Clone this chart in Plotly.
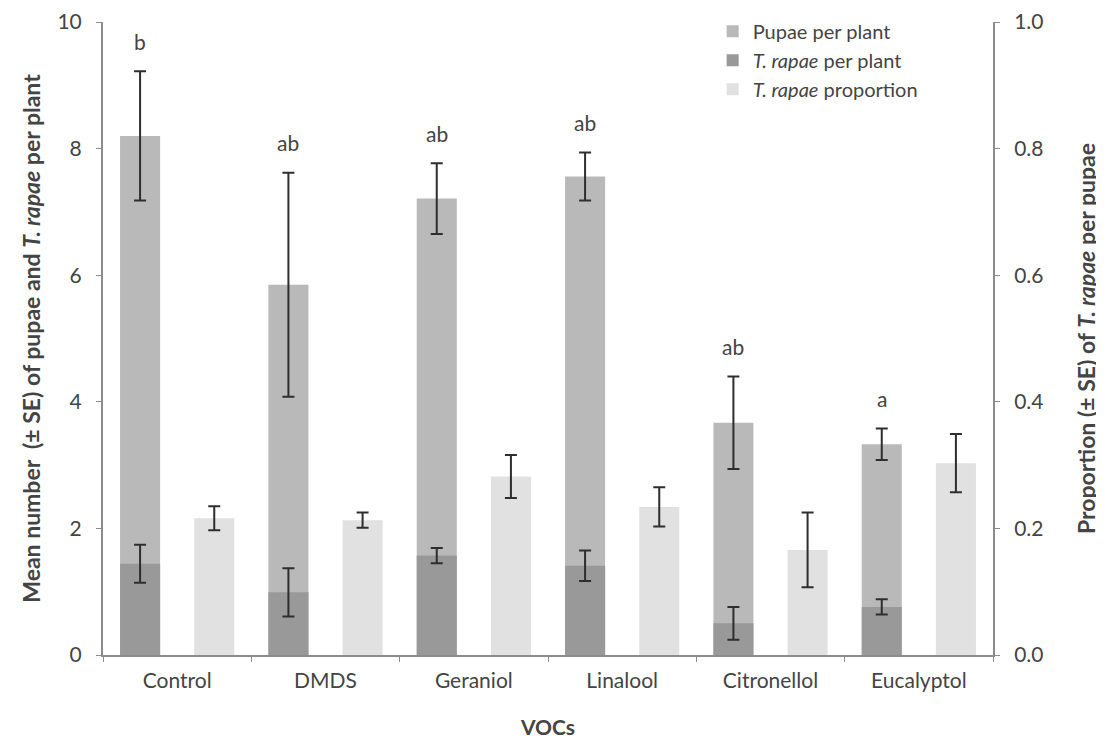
import plotly.graph_objects as go

categories = ["Control", "DMDS", "Geraniol", "Linalool", "Citronellol", "Eucalyptol"]
pupae_mean = [8.20, 5.85, 7.21, 7.56, 3.67, 3.33]
pupae_se = [1.02, 1.77, 0.56, 0.38, 0.73, 0.25]
rapae_mean = [1.44, 0.99, 1.57, 1.41, 0.50, 0.76]
rapae_se = [0.30, 0.38, 0.12, 0.24, 0.26, 0.12]
prop_mean = [0.216, 0.213, 0.282, 0.234, 0.166, 0.303]
prop_se = [0.019, 0.012, 0.034, 0.031, 0.059, 0.046]
letters = ["b", "ab", "ab", "ab", "ab", "a"]

FONT = "Lato, 'Open Sans', sans-serif"
TXT = "#444444"
err_style = dict(type="data", color="#2e2e2e", thickness=2, width=6, visible=True)

fig = go.Figure()
fig.add_trace(go.Bar(
    x=categories, y=pupae_mean, name="Pupae per plant",
    marker=dict(color="#b9b9b9", line=dict(width=0)),
    offset=-0.385, width=0.27,
    error_y=dict(array=pupae_se, **err_style),
))
fig.add_trace(go.Bar(
    x=categories, y=rapae_mean, name="<i>T. rapae</i> per plant",
    marker=dict(color="#999999", line=dict(width=0)),
    offset=-0.385, width=0.27,
    error_y=dict(array=rapae_se, **err_style),
))
fig.add_trace(go.Bar(
    x=categories, y=prop_mean, name="<i>T. rapae</i> proportion",
    marker=dict(color="#e1e1e1", line=dict(width=0)),
    offset=0.115, width=0.27, yaxis="y2",
    error_y=dict(array=prop_se, **err_style),
))

for i, (lab, m, s) in enumerate(zip(letters, pupae_mean, pupae_se)):
    fig.add_annotation(
        x=i - 0.25, y=m + s, xref="x", yref="y", text=lab,
        showarrow=False, yanchor="middle", yshift=30,
        font=dict(family=FONT, size=21, color=TXT),
    )

axis_line = dict(showline=True, linecolor="#8c8c8c", linewidth=2)
tick_font = dict(family=FONT, size=21, color=TXT)
title_font = dict(family=FONT, size=23, color=TXT)

fig.update_layout(
    width=1096, height=736,
    margin=dict(l=95, r=111, t=14, b=89, autoexpand=False),
    paper_bgcolor="white", plot_bgcolor="white",
    barmode="overlay",
    font=dict(family=FONT, size=21, color=TXT),
    showlegend=True,
    legend=dict(
        x=0.685, y=1.016, xanchor="left", yanchor="top",
        bgcolor="rgba(255,255,255,0)", font=dict(family=FONT, size=20, color=TXT),
        tracegroupgap=0, itemwidth=30,
    ),
    xaxis=dict(
        type="category", range=[-0.5, 5.5], **axis_line,
        ticks="outside", tickson="boundaries", ticklen=5, tickcolor="#8c8c8c", tickwidth=1,
        tickfont=tick_font, ticklabelstandoff=6,
        title=dict(text="<b>VOCs</b>", standoff=29, font=dict(family=FONT, size=21, color=TXT)),
        showgrid=False, zeroline=False,
    ),
    yaxis=dict(
        range=[0, 10], tickvals=[0, 2, 4, 6, 8, 10], **axis_line,
        ticks="outside", ticklen=5, tickcolor="#8c8c8c", tickwidth=1,
        tickfont=tick_font, ticklabelstandoff=10, ticklabeloverflow="allow",
        title=dict(text="<b>Mean number  (± SE) of pupae and <i>T. rapae</i> per plant</b>",
                   standoff=10, font=title_font),
        showgrid=False, zeroline=False,
    ),
    yaxis2=dict(
        range=[0, 1], tickvals=[0, 0.2, 0.4, 0.6, 0.8, 1.0], tickformat=".1f",
        overlaying="y", side="right", **axis_line,
        ticks="outside", ticklen=5, tickcolor="#8c8c8c", tickwidth=1,
        tickfont=tick_font, ticklabelstandoff=10, ticklabeloverflow="allow",
        title=dict(text="<b>Proportion (± SE) of <i>T. rapae</i> per pupae</b>",
                   standoff=36, font=title_font),
        showgrid=False, zeroline=False,
    ),
)

fig.write_html("out.html")
